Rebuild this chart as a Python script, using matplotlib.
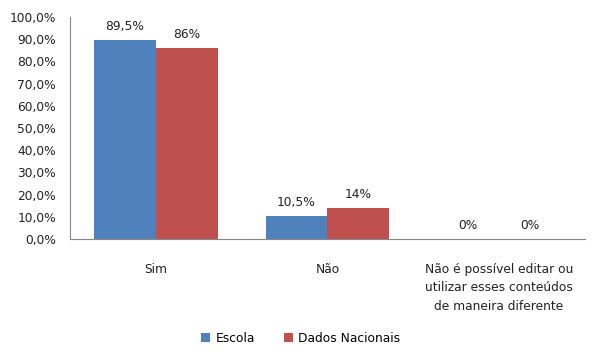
import matplotlib
matplotlib.use("Agg")
import matplotlib.pyplot as plt
import numpy as np
from matplotlib.ticker import FuncFormatter

categories = ["Sim", "Não", "Não é possível editar ou\nutilizar esses conteúdos\nde maneira diferente"]
escola = [89.5, 10.5, 0.0]
nacionais = [86.0, 14.0, 0.0]
escola_labels = ["89,5%", "10,5%", "0%"]
nacionais_labels = ["86%", "14%", "0%"]
series_names = ["Escola", "Dados Nacionais"]

plt.rcParams['font.family'] = ['DejaVu Sans']
fig = plt.figure(figsize=(5.92, 3.55), dpi=100)
ax = fig.add_axes([0.118, 0.327, 0.870, 0.625])

x = np.arange(len(categories))
w = 0.36
c1, c2 = "#4F81BD", "#C0504D"
b1 = ax.bar(x - w/2, escola, w, color=c1, label=series_names[0])
b2 = ax.bar(x + w/2, nacionais, w, color=c2, label=series_names[1])

fs = 8.8
for bars, labs in ((b1, escola_labels), (b2, nacionais_labels)):
    for rect, lab in zip(bars, labs):
        ax.annotate(lab, (rect.get_x() + rect.get_width()/2, rect.get_height()),
                    xytext=(0, 5), textcoords="offset points", ha="center", va="bottom",
                    fontsize=fs, color="#222222")

ax.set_xlim(-0.5, 2.5)
ax.set_ylim(0, 100)
ax.set_yticks(np.arange(0, 101, 10))
ax.yaxis.set_major_formatter(FuncFormatter(lambda v, p: f"{v:.1f}%".replace(".", ",")))
ax.set_xticks(x)
ax.set_xticklabels(categories, fontsize=fs, color="#222222", linespacing=1.55)
ax.tick_params(axis="y", length=0, labelsize=fs, labelcolor="#222222", pad=10)
ax.tick_params(axis="x", length=0, pad=17)
for s in ["top", "right"]:
    ax.spines[s].set_visible(False)
for s in ["left", "bottom"]:
    ax.spines[s].set_color("#888888")
    ax.spines[s].set_linewidth(0.8)

fig.legend(handles=[b1, b2], labels=series_names, loc="center", bbox_to_anchor=(0.508, 0.047),
           ncol=2, frameon=False, fontsize=fs, handlelength=0.75, handleheight=0.75,
           columnspacing=2.4, handletextpad=0.4)

fig.savefig("out.png", dpi=100)
